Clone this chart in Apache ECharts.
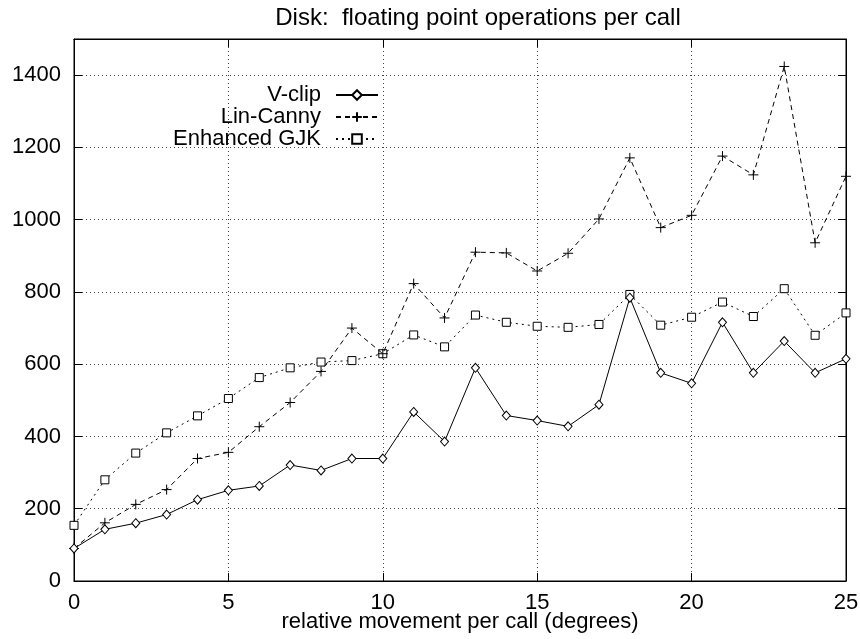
<!DOCTYPE html>
<html><head><meta charset="utf-8">
<script src="https://cdn.jsdelivr.net/npm/echarts@6/dist/echarts.min.js"></script>
<style>html,body{margin:0;padding:0;background:#fff}#c{width:860px;height:639px}</style>
</head><body><div id="c"></div>
<script>
const xs = [0,1,2,3,4,5,6,7,8,9,10,11,12,13,14,15,16,17,18,19,20,21,22,23,24,25];
const vclip = [90,143,160,184,225,251,263,321,306,339,339,468,386,590,458,444,428,488,784,576,547,716,576,664,576,615];
const linCanny = [90,161,212,253,339,356,427,494,580,700,629,823,728,910,908,858,907,1002,1171,978,1012,1176,1124,1424,936,1120];
const gjk = [154,280,354,410,457,505,563,590,606,610,629,681,648,736,716,705,702,710,793,708,730,772,732,809,680,742];
const names = ['V-clip','Lin-Canny','Enhanced GJK'];
const titleText = 'Disk:  floating point operations per call';
const xName = 'relative movement per call (degrees)';

const pair = a => xs.map((x,i)=>[x,a[i]]);
const font = 'Liberation Sans, Arial, Helvetica, sans-serif';
const chart = echarts.init(document.getElementById('c'));
const plus = 'path://M0,5 L10,5 M5,0 L5,10';
function axLine(){return {show:true,onZero:false,lineStyle:{color:'#000',width:1}};}
function axTick(){return {show:true,inside:true,length:8,lineStyle:{color:'#000',width:1}};}
function grid(){return {show:true,lineStyle:{color:'#444',type:[1,3],width:1}};}
chart.setOption({
  animation:false,
  backgroundColor:'#fff',
  title:{text:titleText,left:473,textAlign:'center',top:1,textStyle:{fontFamily:font,fontSize:24,fontWeight:'normal',color:'#000'}},
  legend:{
    orient:'vertical',align:'right',right:476,top:79,itemGap:0,itemWidth:42,itemHeight:12,
    textStyle:{fontFamily:font,fontSize:22,color:'#000',padding:[0,10,0,0]},
    data:names
  },
  grid:{left:74,right:14,top:39,bottom:58,containLabel:false,outerBoundsMode:'none',show:true,borderColor:'#000',borderWidth:1,backgroundColor:'transparent'},
  xAxis:[
    {type:'value',min:0,max:25,interval:5,position:'bottom',gridIndex:0,
      name:xName,nameLocation:'middle',nameGap:30,nameMoveOverlap:false,nameTextStyle:{fontFamily:font,fontSize:22,color:'#000'},
      axisLine:axLine(),axisTick:axTick(),
      axisLabel:{fontFamily:font,fontSize:22,color:'#000',margin:11},
      splitLine:grid()},
    {type:'value',min:0,max:25,interval:5,position:'top',gridIndex:0,
      axisLine:axLine(),axisTick:axTick(),axisLabel:{show:false},splitLine:{show:false}}
  ],
  yAxis:[
    {type:'value',min:0,max:1500,interval:200,position:'left',gridIndex:0,
      axisLine:axLine(),axisTick:axTick(),
      axisLabel:{fontFamily:font,fontSize:22,color:'#000',margin:13,formatter:v=>v>1400?'':v},
      splitLine:grid()},
    {type:'value',min:0,max:1500,interval:200,position:'right',gridIndex:0,
      axisLine:axLine(),axisTick:axTick(),axisLabel:{show:false},splitLine:{show:false}}
  ],
  series:[
    {name:names[0],type:'line',data:pair(vclip),symbol:'diamond',symbolSize:[8,9],
     lineStyle:{color:'#000',width:1,type:'solid'},itemStyle:{color:'#fff',borderColor:'#000',borderWidth:1},z:4},
    {name:names[1],type:'line',data:pair(linCanny),symbol:plus,symbolSize:10,
     lineStyle:{color:'#000',width:1,type:[5,4]},itemStyle:{color:'#fff',borderColor:'#000',borderWidth:1},z:3},
    {name:names[2],type:'line',data:pair(gjk),symbol:'rect',symbolSize:8,
     lineStyle:{color:'#000',width:1,type:[2,4]},itemStyle:{color:'#fff',borderColor:'#000',borderWidth:1},z:2}
  ]
});
</script></body></html>
